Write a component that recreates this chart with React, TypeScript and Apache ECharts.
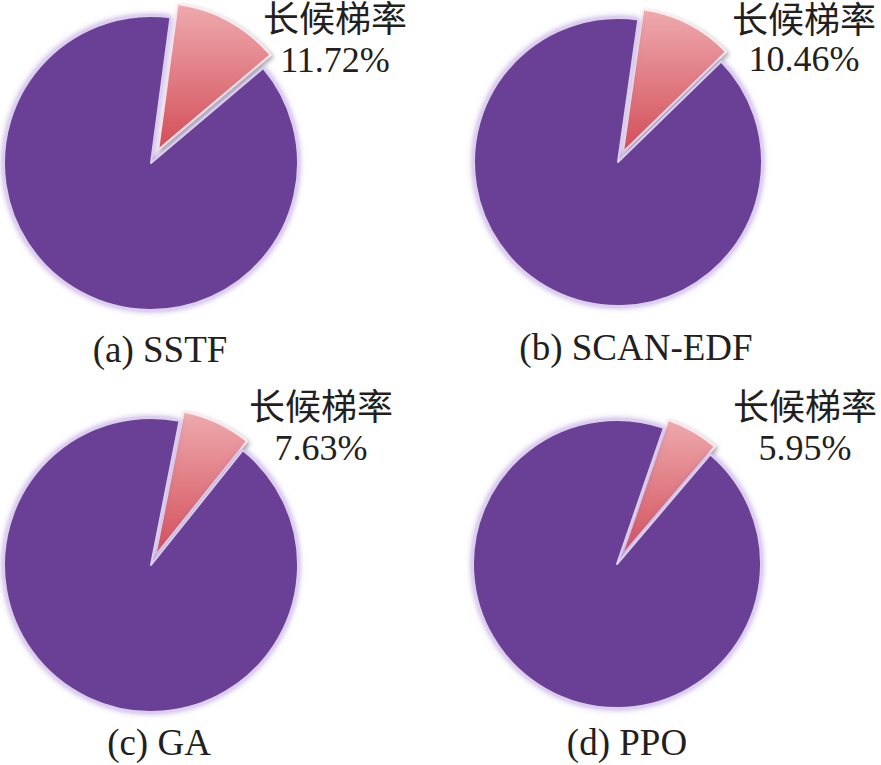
import React, { useEffect, useRef } from "react";
import * as echarts from "echarts";

const captions = ["(a) SSTF", "(b) SCAN-EDF", "(c) GA", "(d) PPO"];
const rateName = "长候梯率";
const longWaitRates = [11.72, 10.46, 7.63, 5.95];
const otherRates = [88.28, 89.54, 92.37, 94.05];

// layout (pixels)
const centers = [
  [151, 163],
  [618, 162],
  [151, 565],
  [617, 564],
];
const radii = [147, 144, 147, 144];
const startAngles = [82.4, 81.9, 78.8, 71];
const offsets = [15, 11, 10, 9];
const labelPos = [
  { x: 335, top: 0, lh: 40 },
  { x: 804, top: 2, lh: 38 },
  { x: 321, top: 388, lh: 40 },
  { x: 805, top: 388, lh: 40 },
];
const captionPos = [
  { x: 160, top: 330 },
  { x: 636, top: 328 },
  { x: 159, top: 723 },
  { x: 627, top: 723 },
];

const serif = "'Liberation Serif', 'Times New Roman', 'Noto Sans CJK SC', serif";

export default function App() {
  const ref = useRef<HTMLDivElement>(null);
  useEffect(() => {
    if (!ref.current) return;
    const chart = echarts.init(ref.current, undefined, { renderer: "svg" });
    const redGradient = new echarts.graphic.LinearGradient(0, 0, 0, 1, [
      { offset: 0, color: "#EEAAAE" },
      { offset: 1, color: "#D34E58" },
    ]);
    const series = longWaitRates.map((v, i) => ({
      type: "pie",
      center: centers[i],
      radius: radii[i],
      startAngle: startAngles[i],
      clockwise: true,
      selectedMode: "single",
      selectedOffset: offsets[i],
      silent: true,
      label: { show: false },
      labelLine: { show: false },
      emphasis: { disabled: true },
      data: [
        {
          value: v,
          name: rateName,
          selected: true,
          itemStyle: {
            color: redGradient,
            borderColor: "rgba(250,235,240,0.95)",
            borderWidth: 2,
            shadowBlur: 4,
            shadowColor: "rgba(60,60,60,0.45)",
            shadowOffsetX: 2,
            shadowOffsetY: 2,
          },
        },
        {
          value: otherRates[i],
          name: "其他",
          itemStyle: {
            color: "#6B3F97",
            borderColor: "#DCCFEE",
            borderWidth: 2,
            shadowBlur: 6,
            shadowColor: "rgba(140,100,200,0.7)",
          },
        },
      ],
    }));
    const titles = [
      ...longWaitRates.map((v, i) => ({
        text: `${rateName}\n${v.toFixed(2)}%`,
        left: labelPos[i].x,
        top: labelPos[i].top,
        textAlign: "center",
        padding: 0,
        textStyle: {
          fontFamily: serif,
          fontSize: 36,
          fontWeight: "normal",
          color: "#231F20",
          lineHeight: labelPos[i].lh,
        },
      })),
      ...captions.map((c, i) => ({
        text: c,
        left: captionPos[i].x,
        top: captionPos[i].top,
        textAlign: "center",
        padding: 0,
        textStyle: {
          fontFamily: serif,
          fontSize: 37,
          fontWeight: "normal",
          color: "#231F20",
          lineHeight: 38,
        },
      })),
    ];
    chart.setOption({
      animation: false,
      backgroundColor: "#ffffff",
      title: titles,
      series,
    } as any);
    return () => chart.dispose();
  }, []);
  return (
    <div
      ref={ref}
      style={{ position: "fixed", left: 0, top: 0, width: 881, height: 765 }}
    />
  );
}
